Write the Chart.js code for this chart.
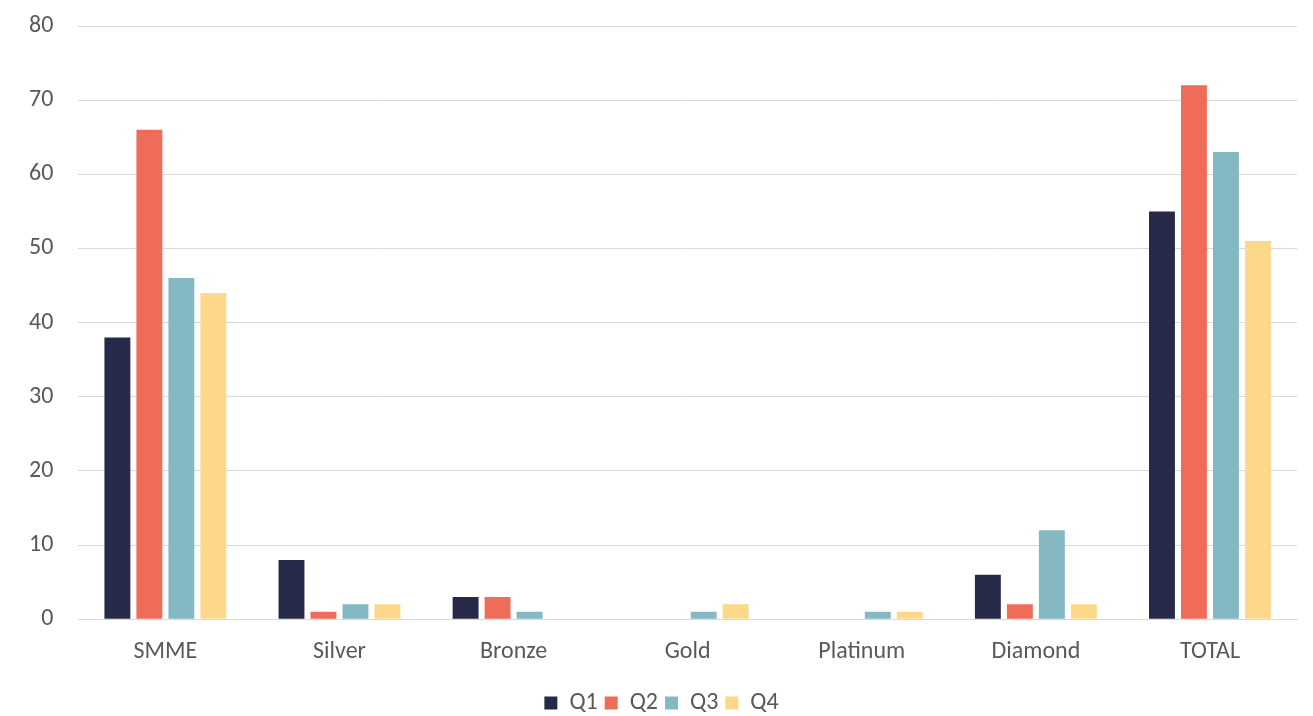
<!DOCTYPE html>
<html>
<head>
<meta charset="utf-8">
<script src="https://cdn.jsdelivr.net/npm/chart.js@4.4.1/dist/chart.umd.min.js"></script>
<style>
  html, body { margin: 0; padding: 0; background: #fff; }
  #wrap { width: 1313px; height: 716px; }
</style>
</head>
<body>
<div id="wrap"><canvas id="barChart" width="1313" height="716"></canvas></div>
<script>
// categories and quarterly counts
var categories = ["SMME", "Silver", "Bronze", "Gold", "Platinum", "Diamond", "TOTAL"];
var q1 = [38, 8, 3, 0, 0, 6, 55];
var q2 = [66, 1, 3, 0, 0, 2, 72];
var q3 = [46, 2, 1, 1, 1, 12, 63];
var q4 = [44, 2, 0, 2, 1, 2, 51];
var yTicks = [0, 10, 20, 30, 40, 50, 60, 70, 80];

var fontFamily = "Carlito, Lato, 'Open Sans', sans-serif";
var textColor = "#595959";

var ctx = document.getElementById("barChart");

var data = {
    labels: categories,
    datasets: [
        { label: "Q1", data: q1, backgroundColor: "#262a48" },
        { label: "Q2", data: q2, backgroundColor: "#ee6c58" },
        { label: "Q3", data: q3, backgroundColor: "#84b9c4" },
        { label: "Q4", data: q4, backgroundColor: "#fdd78a" }
    ]
};

var chart = new Chart(ctx, {
    type: "bar",
    data: data,
    options: {
        responsive: false,
        animation: false,
        categoryPercentage: 0.735,
        barPercentage: 0.81,
        layout: { padding: { left: 26, right: 16, top: 26, bottom: -9 } },
        scales: {
            x: {
                grid: { display: false, drawTicks: false },
                border: { display: true, color: "#d9d9d9", width: 1 },
                ticks: {
                    color: textColor,
                    font: { family: fontFamily, size: 24 },
                    padding: 18
                }
            },
            y: {
                min: 0,
                max: 80,
                afterBuildTicks: function(axis) {
                    axis.ticks = yTicks.map(function(v) { return { value: v }; });
                },
                // invisible tick marks keep the labels clear of the grid
                grid: { color: "#d9d9d9", lineWidth: 1, drawTicks: true, tickLength: 22, tickColor: "rgba(0,0,0,0)" },
                border: { display: false },
                ticks: {
                    color: textColor,
                    font: { family: fontFamily, size: 24 },
                    padding: 3
                }
            }
        },
        plugins: {
            legend: {
                position: "bottom",
                labels: {
                    color: textColor,
                    font: { family: fontFamily, size: 24 },
                    boxWidth: 13,
                    boxHeight: 13,
                    padding: 7
                }
            },
            tooltip: { enabled: false }
        }
    }
});
</script>
</body>
</html>
